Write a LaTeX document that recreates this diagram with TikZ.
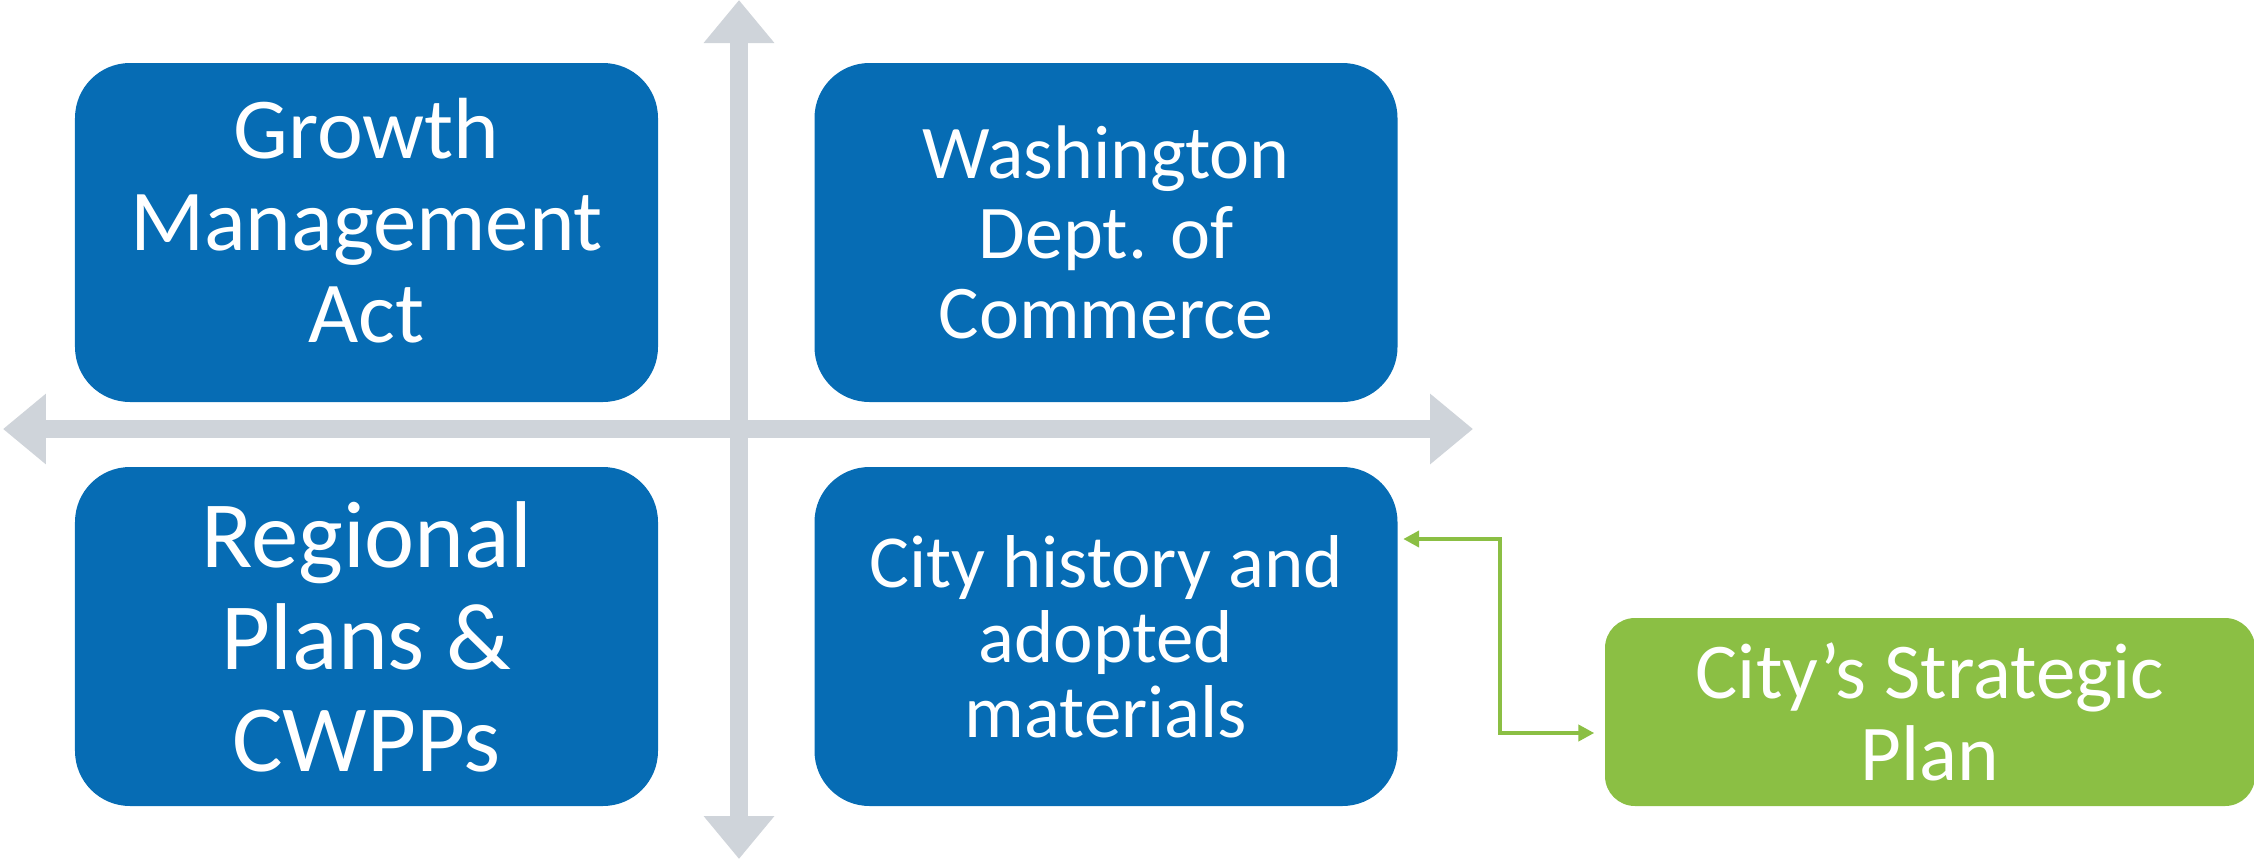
\documentclass[tikz,border=0pt]{standalone}
\usepackage{fontspec}
\setmainfont{Carlito}
\usetikzlibrary{arrows.meta,positioning}

\definecolor{quadblue}{RGB}{6,108,180}
\definecolor{axisgrey}{RGB}{207,212,218}
\definecolor{plangreen}{RGB}{139,191,68}

\begin{document}
\begin{tikzpicture}[
            node distance=1.5cm,
            quad/.style={rectangle, rounded corners=0.55cm, fill=quadblue, text=white, minimum width=5.83cm, minimum height=3.39cm, align=center, inner sep=0pt},
            plan/.style={rectangle, rounded corners=0.3cm, fill=plangreen, text=white, minimum width=6.5cm, minimum height=1.88cm, align=center, inner sep=0pt},
            axis/.style={{Triangle[width=0.68cm, length=0.43cm]}-{Triangle[width=0.68cm, length=0.43cm]}, draw=axisgrey, line width=0.18cm},
            link/.style={{Triangle[width=0.16cm, length=0.16cm]}-{Triangle[width=0.16cm, length=0.16cm]}, draw=plangreen, line width=0.045cm}
            ]
            \useasboundingbox (0,0) rectangle (22.54,8.59);

            % Axes
            \coordinate (axtop) at (7.39,8.59);
            \coordinate (axbot) at (7.39,0);
            \coordinate (axleft) at (0.03,4.30);
            \coordinate (axright) at (14.73,4.30);
            \draw[axis] (axbot) -- (axtop);
            \draw[axis] (axleft) -- (axright);

            % Quadrants
            \node[quad, font=\fontsize{24.7}{26.2}\selectfont, text depth=0.24cm] at (3.665,6.265) (gma) {Growth\\Management\\Act};
            \node[quad, right of=gma, xshift=5.895cm, font=\fontsize{21.6}{22.8}\selectfont] (commerce) {Washington\\Dept. of\\Commerce};
            \node[quad, below of=gma, yshift=-2.54cm, font=\fontsize{27}{29}\selectfont] (regional) {Regional\\Plans \&\\CWPPs};
            \node[quad, below of=commerce, yshift=-2.54cm, font=\fontsize{21.3}{21.4}\selectfont] (history) {City history and\\adopted\\materials};

            % Strategic plan
            \node[plan, right of=history, xshift=6.74cm, yshift=-0.755cm, font=\fontsize{22.5}{23.2}\selectfont] (strategic) {City's Strategic\\Plan};

            % Link
            \draw[link] ([xshift=0.5mm, yshift=9.75mm]history.east) -- ++(0.97,0) |- ([xshift=-1mm, yshift=-2.1mm]strategic.west);

        \end{tikzpicture}
\end{document}
